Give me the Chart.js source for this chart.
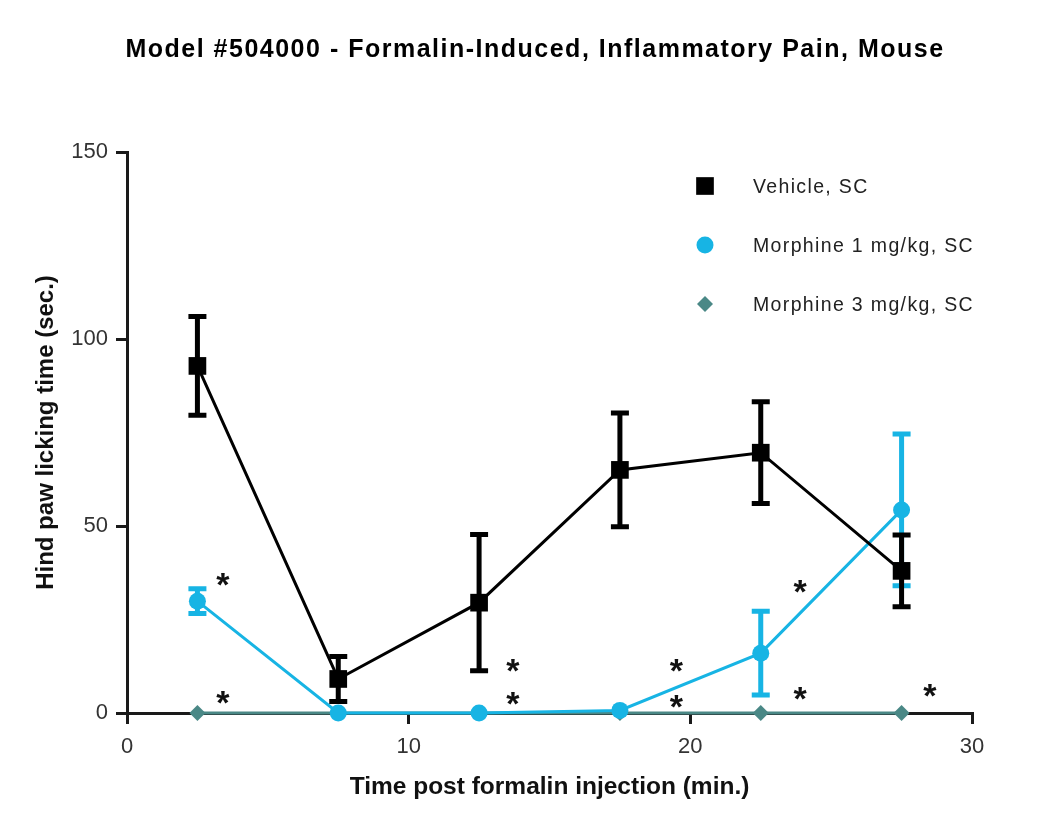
<!DOCTYPE html>
<html>
<head>
<meta charset="utf-8">
<script src="https://cdn.jsdelivr.net/npm/chart.js@4.4.0/dist/chart.umd.min.js"></script>
<style>
    html, body { margin: 0; padding: 0; background: #fff; }
</style>
</head>
<body>
<canvas id="chart" width="1050" height="830"></canvas>
<script>
// data
const timePoints = [2.5, 7.5, 12.5, 17.5, 22.5, 27.5];
const vehicleMean = [92.8, 9.1, 29.5, 65.0, 69.6, 38.0];
const vehicleErr = [13.2, 6.0, 18.2, 15.2, 13.6, 9.6];
const morphine1Mean = [29.9, 0, 0, 0.7, 16.0, 54.3];
const morphine1Err = [3.3, 0, 0, 0, 11.2, 20.3];
const morphine3Mean = [0, 0, 0, 0, 0, 0];
const seriesLabels = ['Vehicle, SC', 'Morphine 1 mg/kg, SC', 'Morphine 3 mg/kg, SC'];
const xTicks = [0, 10, 20, 30];
const yTicks = [0, 50, 100, 150];
// significance stars (data units)
const starX = [3.4, 3.4, 13.7, 13.7, 19.5, 19.5, 23.9, 23.9, 28.5];
const starY = [35.5, 3.8, 12.3, 3.5, 12.3, 2.7, 33.4, 5.0, 5.8];

const chartTitle = 'Model #504000 - Formalin-Induced, Inflammatory Pain, Mouse';
const FONT = "'Liberation Sans', Arial, Helvetica, sans-serif";
Chart.defaults.font.family = FONT;

function toPoints(means) {
    return timePoints.map((t, i) => ({ x: t, y: means[i] }));
}

// draw error bars under each dataset's own line and markers
const errorBars = {
    id: 'errorBars',
    beforeDatasetDraw(chart, args) {
        const ds = chart.data.datasets[args.index];
        if (!ds.errors) return;
        const ctx = chart.ctx;
        const x = chart.scales.x;
        const y = chart.scales.y;
        ctx.save();
        ctx.strokeStyle = ds.borderColor;
        ctx.lineWidth = 5;
        ds.data.forEach((p, i) => {
            const e = ds.errors[i];
            if (!e) return;
            const px = x.getPixelForValue(p.x);
            const top = y.getPixelForValue(p.y + e);
            const bot = y.getPixelForValue(p.y - e);
            ctx.beginPath();
            ctx.moveTo(px, top);
            ctx.lineTo(px, bot);
            ctx.moveTo(px - 9, top);
            ctx.lineTo(px + 9, top);
            ctx.moveTo(px - 9, bot);
            ctx.lineTo(px + 9, bot);
            ctx.stroke();
        });
        ctx.restore();
    }
};

const stars = {
    id: 'stars',
    afterDatasetsDraw(chart) {
        const ctx = chart.ctx;
        const size = 34;
        ctx.save();
        ctx.fillStyle = '#111';
        ctx.font = 'bold ' + size + 'px ' + FONT;
        ctx.textAlign = 'center';
        ctx.textBaseline = 'alphabetic';
        starX.forEach((sx, i) => {
            const px = chart.scales.x.getPixelForValue(sx);
            const py = chart.scales.y.getPixelForValue(starY[i]);
            ctx.fillText('*', px, py + size * 0.45);
        });
        ctx.restore();
    }
};

// title (letter-spaced) and the legend in the upper right of the plot
const decorations = {
    id: 'decorations',
    afterDraw(chart) {
        const ctx = chart.ctx;
        ctx.save();
        ctx.letterSpacing = '1.5px';
        ctx.fillStyle = '#000';
        ctx.font = 'bold 25px ' + FONT;
        ctx.textAlign = 'center';
        ctx.textBaseline = 'middle';
        ctx.fillText(chartTitle, 535, 50);

        ctx.letterSpacing = '1.35px';
        ctx.font = '19.5px ' + FONT;
        ctx.textAlign = 'left';
        chart.data.datasets.forEach((ds, i) => {
            const cy = 186 + i * 59;
            ctx.fillStyle = ds.backgroundColor;
            ctx.strokeStyle = ds.backgroundColor;
            Chart.helpers.drawPoint(ctx, {
                pointStyle: ds.pointStyle,
                radius: ds.pointRadius,
                borderWidth: 0
            }, 705, cy);
            ctx.fillStyle = '#222';
            ctx.fillText(ds.label, 753, cy + 2);
        });
        ctx.restore();
    }
};

const axisColor = '#1a1a1a';

new Chart(document.getElementById('chart'), {
    type: 'line',
    data: {
        datasets: [{
            label: seriesLabels[0],
            data: toPoints(vehicleMean),
            errors: vehicleErr,
            borderColor: '#000000',
            backgroundColor: '#000000',
            borderWidth: 3,
            pointStyle: 'rect',
            pointRadius: 12.5,
            pointHoverRadius: 12.5,
            pointBorderWidth: 0,
            clip: false
        }, {
            label: seriesLabels[1],
            data: toPoints(morphine1Mean),
            errors: morphine1Err,
            borderColor: '#17b4e4',
            backgroundColor: '#17b4e4',
            borderWidth: 3,
            pointStyle: 'circle',
            pointRadius: 8.5,
            pointHoverRadius: 8.5,
            pointBorderWidth: 0,
            clip: false
        }, {
            label: seriesLabels[2],
            data: toPoints(morphine3Mean),
            borderColor: '#4a8886',
            backgroundColor: '#4a8886',
            borderWidth: 3,
            pointStyle: 'rectRot',
            pointRadius: 8,
            pointHoverRadius: 8,
            pointBorderWidth: 0,
            clip: false
        }]
    },
    options: {
        responsive: false,
        animation: false,
        layout: { padding: { left: 0, right: 78, top: 152, bottom: 0 } },
        plugins: {
            legend: { display: false },
            tooltip: { enabled: false },
            title: { display: false }
        },
        scales: {
            x: {
                type: 'linear',
                min: 0,
                max: 30,
                afterBuildTicks: (scale) => { scale.ticks = xTicks.map(v => ({ value: v })); },
                afterFit: (scale) => { scale.height = 117; },
                ticks: { color: '#333', font: { size: 22 }, padding: 10 },
                grid: { drawOnChartArea: false, drawTicks: true, tickLength: 11, lineWidth: 3, color: axisColor },
                border: { width: 3, color: axisColor },
                title: {
                    display: true,
                    text: 'Time post formalin injection (min.)',
                    color: '#111',
                    font: { size: 24.5, weight: 'bold' },
                    padding: { top: 0, bottom: 28 }
                }
            },
            y: {
                type: 'linear',
                min: 0,
                max: 150,
                afterBuildTicks: (scale) => { scale.ticks = yTicks.map(v => ({ value: v })); },
                afterFit: (scale) => { scale.width = 127; },
                ticks: { color: '#333', font: { size: 22 }, padding: 8 },
                grid: { drawOnChartArea: false, drawTicks: true, tickLength: 11, lineWidth: 3, color: axisColor },
                border: { width: 3, color: axisColor },
                title: {
                    display: true,
                    text: 'Hind paw licking time (sec.)',
                    color: '#111',
                    font: { size: 24, weight: 'bold' },
                    padding: { top: 32, bottom: 0 }
                }
            }
        }
    },
    plugins: [errorBars, stars, decorations]
});
</script>
</body>
</html>
